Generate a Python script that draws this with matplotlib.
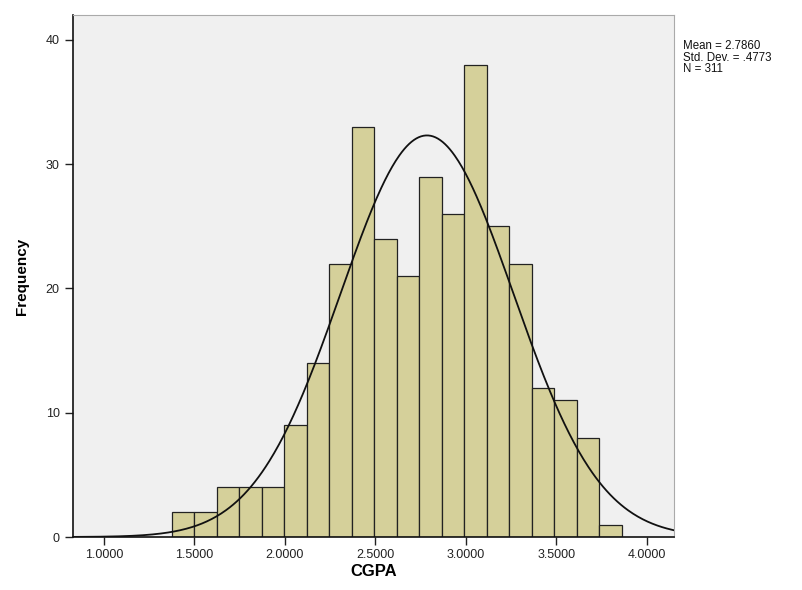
import numpy as np
import matplotlib
matplotlib.use("Agg")
import matplotlib.pyplot as plt

# Data
counts = [2, 2, 4, 4, 4, 9, 14, 22, 33, 24, 21, 29, 26, 38, 25, 22, 12, 11, 8, 1]
bin_start = 1.376
bin_width = 0.1243
mean = 2.7860
std = 0.4773
n = 311
xticks = [1.0, 1.5, 2.0, 2.5, 3.0, 3.5, 4.0]
xtick_labels = ["1.0000", "1.5000", "2.0000", "2.5000", "3.0000", "3.5000", "4.0000"]
yticks = [0, 10, 20, 30, 40]

plt.rcParams['font.family'] = ['Liberation Sans', 'DejaVu Sans']

fig = plt.figure(figsize=(8.02, 5.90), dpi=100)
fig.patch.set_facecolor('white')
ax = fig.add_axes([73/802, 1 - 537/590, (674-73)/802, (537-15)/590])
ax.set_facecolor('#f0f0f0')

edges = bin_start + bin_width * np.arange(len(counts) + 1)
ax.bar(edges[:-1], counts, width=bin_width, align='edge',
       color='#d5d09a', edgecolor='#222222', linewidth=0.9, zorder=2)

xlim = (0.83, 4.151)
xs = np.linspace(xlim[0], xlim[1], 500)
pdf = n * bin_width / (std * np.sqrt(2 * np.pi)) * np.exp(-0.5 * ((xs - mean) / std) ** 2)
ax.plot(xs, pdf, color='#111111', linewidth=1.3, zorder=3)

ax.set_xlim(*xlim)
ax.set_ylim(0, 42)
ax.set_xticks(xticks)
ax.set_xticklabels(xtick_labels)
ax.set_yticks(yticks)
ax.tick_params(axis='both', direction='out', length=6, width=1, labelsize=9, colors='#222222')
ax.tick_params(axis='x', pad=3)

for side in ['left', 'bottom']:
    ax.spines[side].set_color('#111111')
    ax.spines[side].set_linewidth(1.2)
for side in ['top', 'right']:
    ax.spines[side].set_color('#aaaaaa')
    ax.spines[side].set_linewidth(0.8)

ax.set_xlabel('CGPA', fontsize=12, fontweight='bold', labelpad=2)
ax.set_ylabel('Frequency', fontsize=11, fontweight='bold', labelpad=12)

fig.text(683/802, 1 - 40/590, "Mean = 2.7860\nStd. Dev. = .4773\nN = 311",
         fontsize=8.3, va='top', ha='left', linespacing=0.95, color='#111111')

fig.savefig('out.png', dpi=100)
